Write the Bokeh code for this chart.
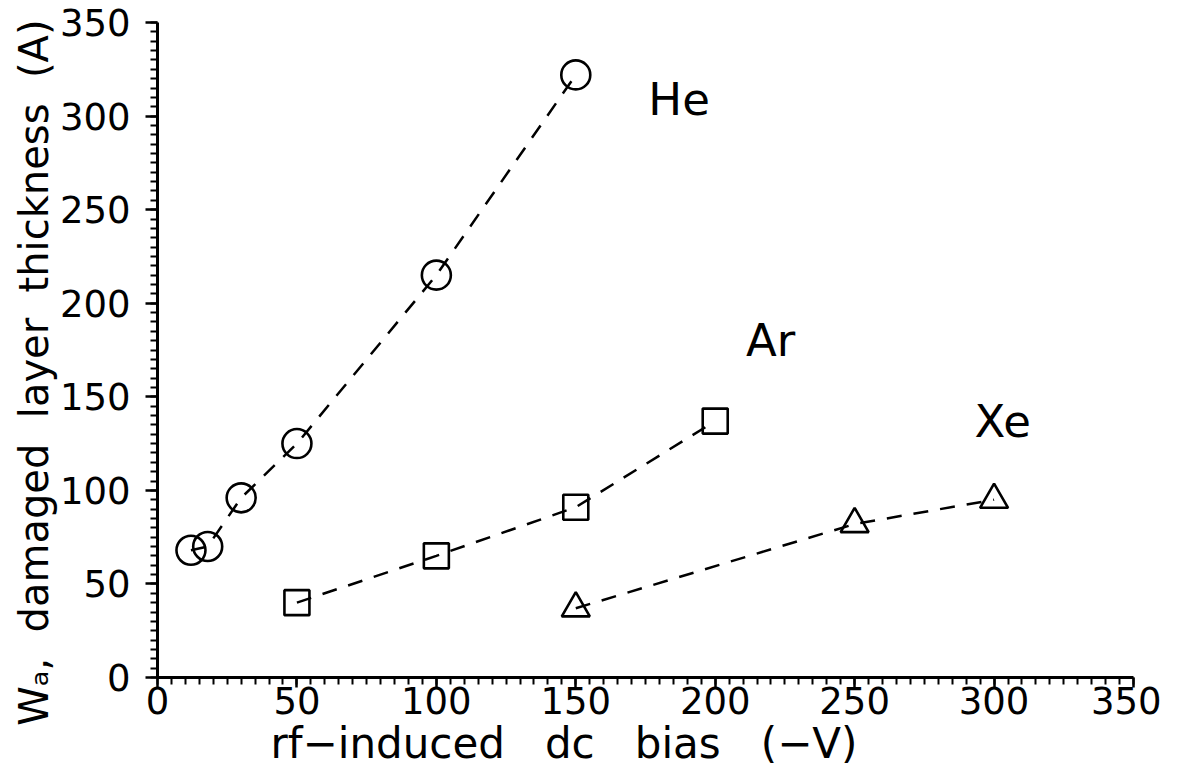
from bokeh.plotting import figure
from bokeh.models import Range1d, SingleIntervalTicker, Label, Title
from bokeh.embed import file_html
from bokeh.resources import INLINE

he_x = [12, 18, 30, 50, 100, 150]
he_y = [68, 70, 96, 125, 215, 322]
ar_x = [50, 100, 150, 200]
ar_y = [40, 65, 91, 137]
xe_x = [150, 250, 300]
xe_y = [37, 82, 95]

NB = "\u00a0"
x_label = "rf\u2212induced" + NB * 2 + " dc" + NB * 2 + " bias" + NB * 2 + " (\u2212V)"
y_label = "W\u2090," + NB + " damaged" + NB + " layer" + NB + " thickness" + NB + " (A)"

p = figure(frame_width=976, frame_height=655, output_backend="svg", toolbar_location=None,
           x_range=Range1d(0, 350), y_range=Range1d(0, 350),
           min_border_left=157, min_border_top=22, min_border_right=28, min_border_bottom=86)
p.outline_line_color = None
p.grid.visible = False
p.background_fill_color = "white"

for ax in (p.xaxis[0], p.yaxis[0]):
    ax.ticker = SingleIntervalTicker(interval=50, num_minor_ticks=10)
    ax.axis_line_width = 3
    ax.axis_line_color = "black"
    ax.major_tick_line_width = 2.5
    ax.minor_tick_line_width = 2
    ax.major_tick_in = 0
    ax.minor_tick_in = 0
    ax.minor_tick_out = 7
    ax.major_label_text_color = "black"
    ax.major_label_text_font = "DejaVu Sans"
    ax.major_label_text_font_size = "37px"

p.xaxis.major_tick_out = 10
p.yaxis.major_tick_out = 12
p.xaxis.major_label_standoff = -1
p.yaxis.major_label_standoff = 15

# axis titles (offset along the axis like in the reference)
p.add_layout(Title(text=x_label, align="left", offset=113, text_font="DejaVu Sans",
                   text_font_size="42px", text_font_style="normal", text_color="black",
                   standoff=0), "below")
p.add_layout(Title(text=y_label, align="right", offset=-3, text_font="DejaVu Sans",
                   text_font_size="40px", text_font_style="normal", text_color="black",
                   standoff=0), "left")

dash = "15 12"
p.line(he_x, he_y, line_color="black", line_width=2.5, line_dash=dash)
p.line(ar_x, ar_y, line_color="black", line_width=2.5, line_dash=dash)
p.line(xe_x, xe_y, line_color="black", line_width=2.5, line_dash=dash)

p.scatter(he_x, he_y, marker="circle", size=29, fill_color=None, line_color="black", line_width=2.6)
p.scatter(ar_x, ar_y, marker="square", size=25, fill_color=None, line_color="black", line_width=2.6)
p.scatter(xe_x, xe_y, marker="triangle", size=28, fill_color=None, line_color="black", line_width=2.6)

for txt, x, y in [("He", 176, 309), ("Ar", 211, 180), ("Xe", 293, 137)]:
    p.add_layout(Label(x=x, y=y, text=txt, text_font="DejaVu Sans", text_font_size="45px",
                       text_color="black", text_baseline="middle"))

open("out.html", "w").write(file_html(p, INLINE))
